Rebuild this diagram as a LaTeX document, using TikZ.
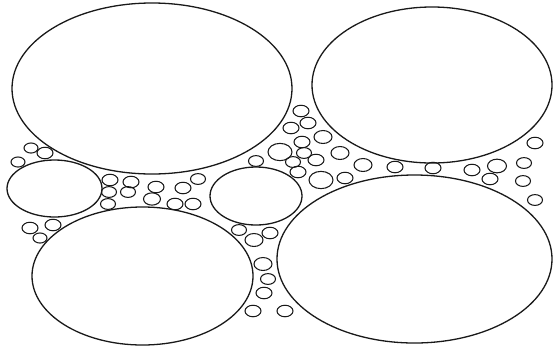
\documentclass[tikz,border=0pt]{standalone}
\usepackage{tikz}
\tikzset{
  grain/.style={draw=black!90,line width=1.3pt},
  fine/.style ={draw=black!90,line width=1.05pt},
}
\begin{document}
\begin{tikzpicture}[x=1pt,y=-1pt]
\useasboundingbox (0,0) rectangle (554,349);
\draw[grain] (152,88.5) ellipse [x radius=140pt,y radius=85.5pt];
\draw[grain] (432,85)   ellipse [x radius=120pt,y radius=78pt];
\draw[grain] (54.5,188.5) ellipse [x radius=47.5pt,y radius=28.5pt];
\draw[grain] (256,196)  ellipse [x radius=46pt,y radius=29pt];
\draw[grain] (142.5,276) ellipse [x radius=110.5pt,y radius=69pt];
\draw[grain] (414.5,259) ellipse [x radius=137.5pt,y radius=84pt];
\foreach \cx/\cy/\rx in {31/148/7,45/153/8,18/162/7,
    30/228/8,53/225/8,40/238/7,
    110/180/8,131/182/8,109/192/7.5,128/192/7.5,156/187/8,183/188/8,198/179/7.5,
    108/204/7.5,152/199/8.5,175/204/8,193/204/8,
    301/111/8,308/123/8,291/128/8,323/137/9,302/142/8,280/152/12,304/153/7.5,
    340/153/9,316/160/8,256/161/7.5,293/162/7.5,363/165/9,298/172/8,321/180/12,345/178/8,
    395/167/8,433/168/8,472/170/8,497/166/9.5,490/179/8,524/163/7.5,523/181/7.5,
    535/143/8,535/200/7.5,
    239/230/7.5,254/240/9,270/233/8,263/264/9,268/279/7.5,264/293/8,253/311/8,285/311/8}
  \draw[fine] (\cx,\cy) ellipse [x radius=\rx pt,y radius={0.72*\rx*1pt}];
\end{tikzpicture}
\end{document}
